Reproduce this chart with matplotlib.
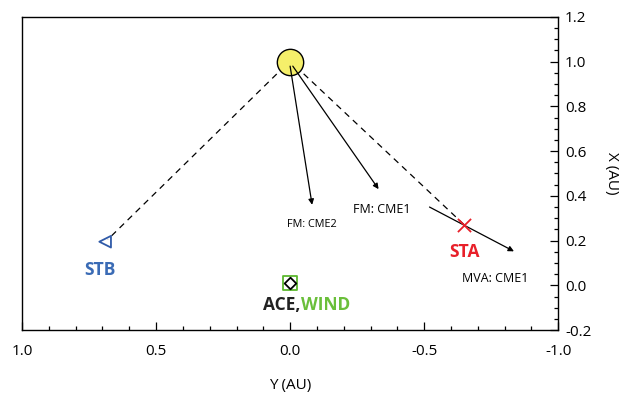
import matplotlib.pyplot as plt
from matplotlib.ticker import MultipleLocator

plt.rcParams['font.family'] = ['Open Sans', 'DejaVu Sans']

# positions in AU (Y horizontal, X vertical)
sun = (0.0, 1.0)
stb = (0.69, 0.195)
sta = (-0.65, 0.27)
ace = (0.0, 0.01)

# arrows: (start, end)
fm_cme2 = ((0.0, 0.98), (-0.082, 0.36))
fm_cme1 = ((-0.01, 0.98), (-0.33, 0.43))
mva_cme1 = ((-0.52, 0.35), (-0.835, 0.152))

fig = plt.figure(figsize=(6.3, 4.03), dpi=100)
ax = fig.add_axes([0.035, 0.181, 0.851, 0.777])

# dashed lines sun -> spacecraft
ax.plot([0.02, stb[0] - 0.01], [0.98, stb[1] + 0.01], ls=(0, (5, 4)), color='black', lw=0.9)
ax.plot([-0.02, sta[0]], [0.98, sta[1]], ls=(0, (5, 4)), color='black', lw=0.9)

# sun
ax.scatter([sun[0]], [sun[1]], s=360, color='#f5ef6a', edgecolor='black', linewidth=1, zorder=3)

# arrows
for (p0, p1) in [fm_cme2, fm_cme1, mva_cme1]:
    ax.annotate('', xy=p1, xytext=p0,
                arrowprops=dict(arrowstyle='-|>', color='black', lw=0.9,
                                mutation_scale=8, shrinkA=0, shrinkB=0),
                zorder=4)

# spacecraft
ax.scatter([stb[0]], [stb[1]], marker='<', s=70, facecolor='none', edgecolor='#2f5aa8', linewidth=1.3, zorder=5)
ax.scatter([sta[0]], [sta[1]], marker='x', s=90, color='#e8202a', linewidth=1.3, zorder=5)
ax.scatter([ace[0]], [ace[1]], marker='s', s=110, facecolor='none', edgecolor='#5cb82e', linewidth=1.3, zorder=5)
ax.scatter([ace[0]], [ace[1]], marker='D', s=35, facecolor='white', edgecolor='black', linewidth=1.3, zorder=6)

# labels
ax.text(stb[0] + 0.02, 0.07, 'STB', color='#3a6bb5', fontsize=12.5, fontweight='bold', ha='center', va='center')
ax.text(sta[0], 0.15, 'STA', color='#e8202a', fontsize=12.5, fontweight='bold', ha='center', va='center')
ax.text(-0.04, -0.09, 'ACE,', color='#222222', fontsize=12.5, fontweight='bold', ha='right', va='center')
ax.text(-0.04, -0.09, 'WIND', color='#6abf3a', fontsize=12.5, fontweight='bold', ha='left', va='center')
ax.text(-0.08, 0.27, 'FM: CME2', fontsize=7.8, ha='center', va='center')
ax.text(-0.34, 0.34, 'FM: CME1', fontsize=9, ha='center', va='center')
ax.text(-0.765, 0.03, 'MVA: CME1', fontsize=9, ha='center', va='center')

ax.set_xlim(1.0, -1.0)
ax.set_ylim(-0.2, 1.2)

ax.yaxis.tick_right()
ax.yaxis.set_label_position('right')
ax.xaxis.set_major_locator(MultipleLocator(0.5))
ax.xaxis.set_minor_locator(MultipleLocator(0.1))
ax.yaxis.set_major_locator(MultipleLocator(0.2))
ax.yaxis.set_minor_locator(MultipleLocator(0.05))
ax.tick_params(which='both', direction='in', labelsize=11)
ax.tick_params(which='major', length=6, width=0.9)
ax.tick_params(which='minor', length=3, width=0.9)
ax.tick_params(axis='x', pad=10)
ax.tick_params(axis='y', pad=5)
ax.xaxis.set_major_formatter(plt.FuncFormatter(lambda v, p: f'{v:.1f}'.replace('-0.0', '0.0')))
ax.yaxis.set_major_formatter(plt.FuncFormatter(lambda v, p: f'{v:.1f}'.replace('-0.0', '0.0')))

ax.set_xlabel('Y (AU)', fontsize=11, labelpad=14)
ax.set_ylabel('X (AU)', fontsize=11, rotation=270, labelpad=20)

for s in ax.spines.values():
    s.set_linewidth(1.0)

fig.savefig('out.png', dpi=100)
